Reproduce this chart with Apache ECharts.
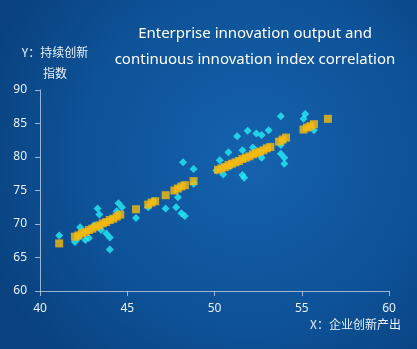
<!DOCTYPE html>
<html>
<head>
<meta charset="utf-8">
<script src="https://cdn.jsdelivr.net/npm/echarts@6/dist/echarts.min.js"></script>
<style>
  html, body { margin: 0; padding: 0; background: #0b4787; }
  #chart { width: 417px; height: 349px; }
</style>
</head>
<body>
<div id="chart"></div>
<script>
// Observed enterprise samples: [innovation output, continuous innovation index]
const observedPoints = [
  [41.1, 68.3], [42.0, 67.3], [42.2, 67.9], [42.3, 69.5], [42.6, 67.6], [42.8, 67.9],
  [43.1, 69.8], [43.3, 72.3], [43.4, 71.4], [43.5, 69.1], [43.8, 68.6], [44.0, 68.0],
  [44.0, 66.2], [44.4, 71.9], [44.5, 73.1], [44.7, 72.5], [45.5, 70.9], [46.2, 72.5],
  [46.5, 73.4], [47.2, 72.3], [47.8, 72.5], [47.9, 74.0], [48.1, 71.6], [48.3, 71.2],
  [48.2, 79.2], [48.8, 78.2], [48.8, 76.0], [50.1, 78.0], [50.3, 79.5], [50.5, 77.4],
  [50.8, 80.7], [50.9, 78.6], [51.3, 83.1], [51.6, 81.0], [51.6, 77.3], [51.7, 76.9],
  [51.9, 83.9], [52.2, 81.4], [52.4, 83.5], [52.7, 83.3], [52.7, 79.9], [53.1, 84.0],
  [53.8, 81.8], [53.8, 80.5], [54.0, 79.9], [54.0, 79.0], [53.9, 82.3], [53.8, 86.1],
  [55.1, 85.7], [55.2, 86.4], [55.7, 84.0]
];

// Fitted index values along the trend
const fittedPoints = [
  [41.1, 67.1],
  [42.0, 68.1], [42.2, 68.3], [42.4, 68.6], [42.6, 68.8], [42.8, 69.1], [43.0, 69.3],
  [43.2, 69.6], [43.4, 69.8], [43.6, 70.1], [43.8, 70.3], [44.0, 70.6], [44.2, 70.8],
  [44.4, 71.1], [44.6, 71.4],
  [45.5, 72.2],
  [46.2, 72.9], [46.4, 73.2], [46.6, 73.4],
  [47.2, 74.3],
  [47.7, 75.0], [47.9, 75.3], [48.1, 75.6], [48.3, 75.8],
  [48.8, 76.4],
  [50.2, 78.1], [50.4, 78.3], [50.6, 78.5], [50.8, 78.8], [51.0, 79.0], [51.2, 79.2],
  [51.4, 79.4], [51.6, 79.7], [51.8, 79.9], [52.0, 80.1], [52.2, 80.4], [52.4, 80.6],
  [52.6, 80.8], [52.8, 81.0], [53.0, 81.3], [53.2, 81.5],
  [53.7, 82.3], [53.9, 82.6], [54.1, 82.9],
  [55.1, 84.1], [55.3, 84.4], [55.5, 84.6], [55.7, 84.9],
  [56.5, 85.7]
];

const titleLines = ['Enterprise innovation output and', 'continuous innovation index correlation'];
const xAxisName = 'X：企业创新产出';
const yAxisName = 'Y：持续创新\n指数';

const chart = echarts.init(document.getElementById('chart'));

const axisColor = 'rgba(200, 215, 235, 0.75)';
const labelColor = '#e8f0fa';

chart.setOption({
  backgroundColor: {
    type: 'radial', x: 0.6, y: 0.45, r: 0.8,
    colorStops: [
      { offset: 0, color: '#1562ad' },
      { offset: 0.6, color: '#0e5298' },
      { offset: 1, color: '#09427f' }
    ]
  },
  title: {
    text: titleLines.join('\n'),
    left: 250,
    top: 16,
    textAlign: 'center',
    textStyle: {
      color: '#ffffff',
      fontSize: 15,
      fontWeight: 'normal',
      lineHeight: 26,
      fontFamily: 'Noto Sans, sans-serif'
    }
  },
  grid: { left: 40, right: 28, top: 90, bottom: 58, containLabel: false, outerBoundsMode: 'none' },
  xAxis: {
    type: 'value',
    min: 40, max: 60, interval: 5,
    name: xAxisName,
    nameLocation: 'end',
    nameGap: 12,
    nameTextStyle: {
      color: labelColor, fontSize: 12, align: 'right', verticalAlign: 'top',
      padding: [27, 0, 0, 0], fontFamily: 'Noto Sans CJK SC, sans-serif'
    },
    splitLine: { show: false },
    axisLine: { lineStyle: { color: axisColor } },
    axisTick: { lineStyle: { color: axisColor } },
    axisLabel: { color: labelColor, fontSize: 12, margin: 12, fontFamily: 'Noto Sans, sans-serif' }
  },
  yAxis: {
    type: 'value',
    min: 60, max: 90, interval: 5,
    name: yAxisName,
    nameLocation: 'end',
    nameGap: -12,
    nameTextStyle: {
      color: labelColor, fontSize: 12, align: 'center', verticalAlign: 'bottom',
      lineHeight: 21, padding: [0, 0, 0, 30], fontFamily: 'Noto Sans CJK SC, sans-serif'
    },
    splitLine: { show: false },
    axisLine: { show: true, lineStyle: { color: axisColor } },
    axisTick: { show: true, lineStyle: { color: axisColor } },
    axisLabel: { color: labelColor, fontSize: 12, margin: 13, fontFamily: 'Noto Sans, sans-serif' }
  },
  series: [
    {
      name: 'observed',
      type: 'scatter',
      symbol: 'diamond',
      symbolSize: 8,
      itemStyle: { color: '#25eef8' },
      data: observedPoints
    },
    {
      name: 'fitted',
      type: 'scatter',
      symbol: 'rect',
      symbolSize: 8,
      itemStyle: { color: '#f9bb0c' },
      data: fittedPoints
    }
  ]
});
</script>
</body>
</html>
